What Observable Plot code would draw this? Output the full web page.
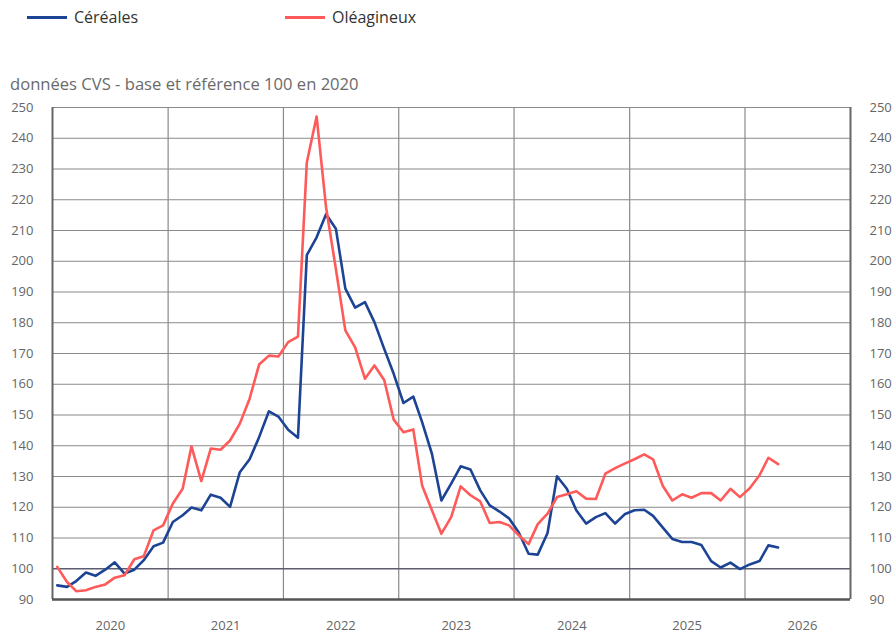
<!DOCTYPE html>
<html><head><meta charset="utf-8">
<script src="https://cdn.jsdelivr.net/npm/d3@7"></script>
<script src="https://cdn.jsdelivr.net/npm/@observablehq/plot@0.6"></script>
<style>
body{margin:0;background:#fff;font-family:"Open Sans",sans-serif;}
#wrap{position:relative;width:892px;height:635px;overflow:hidden;}
.leg{position:absolute;top:6px;font-size:16px;line-height:22px;color:#333;display:flex;align-items:center;white-space:nowrap;}
.leg .sw{display:inline-block;width:40px;height:3px;margin-right:7px;}
#sub{position:absolute;left:10px;top:73px;font-size:16.6px;line-height:22px;color:#6a6a6a;white-space:nowrap;}
#chart{position:absolute;left:0;top:95px;}
</style></head>
<body>
<div id="wrap">
  <div class="leg" style="left:27px"><span class="sw" style="background:#1d4494"></span>Céréales</div>
  <div class="leg" style="left:285px"><span class="sw" style="background:#ff5a5a"></span>Oléagineux</div>
  <div id="sub">données CVS - base et référence 100 en 2020</div>
  <div id="chart"></div>
</div>
<script>
// Monthly series, starting January 2020
const startYear = 2020;
const cereales = [
  94.6, 94.1, 96.0, 98.8, 97.7, 99.7, 102.1, 98.4, 99.7, 102.8, 107.3, 108.5,
  115.2, 117.4, 119.9, 119.0, 124.1, 123.1, 120.1, 131.4, 135.6, 142.8, 151.2, 149.5,
  145.2, 142.6, 202.0, 207.8, 215.3, 210.6, 191.1, 184.9, 186.7, 180.2, 171.5, 163.4,
  153.9, 156.0, 147.7, 137.4, 122.2, 127.7, 133.3, 132.3, 125.5, 120.6, 118.6, 116.4,
  111.8, 104.9, 104.6, 111.6, 130.1, 126.0, 119.0, 114.7, 116.8, 118.1, 114.7, 117.7,
  119.0, 119.2, 117.2, 113.4, 109.7, 108.7, 108.7, 107.7, 102.5, 100.4, 102.0, 99.9,
  101.4, 102.5, 107.6, 106.9
];
const oleagineux = [
  100.6, 95.7, 92.7, 93.0, 94.1, 94.9, 97.1, 97.9, 103.1, 104.1, 112.5, 114.1,
  121.2, 126.0, 139.8, 128.5, 139.1, 138.7, 141.7, 147.2, 155.3, 166.4, 169.3, 169.0,
  173.7, 175.5, 232.1, 247.1, 217.5, 197.5, 177.5, 172.0, 161.8, 166.1, 161.4, 148.5,
  144.4, 145.3, 127.1, 119.0, 111.4, 116.8, 126.8, 123.9, 121.9, 114.9, 115.2, 114.1,
  110.9, 108.0, 114.5, 117.9, 123.3, 124.2, 125.2, 122.8, 122.7, 130.9, 132.7, 134.2,
  135.6, 137.2, 135.6, 126.9, 122.2, 124.2, 123.1, 124.6, 124.6, 122.2, 126.0, 123.3,
  126.2, 130.4, 136.1, 134.0
];
const seriesNames = ["Céréales", "Oléagineux"];
const seriesColors = ["#1d4494", "#ff5a5a"];
const yearLabels = [2020, 2021, 2022, 2023, 2024, 2025, 2026];
const yTicks = [90, 100, 110, 120, 130, 140, 150, 160, 170, 180, 190, 200, 210, 220, 230, 240, 250];

const monthDate = i => new Date(Date.UTC(startYear, i, 16));
const rows = [];
cereales.forEach((v, i) => rows.push({date: monthDate(i), value: v, serie: seriesNames[0]}));
oleagineux.forEach((v, i) => rows.push({date: monthDate(i), value: v, serie: seriesNames[1]}));

const xStart = new Date(Date.UTC(2020, 0, 1));
const xEnd = new Date(Date.UTC(2026, 11, 1));
const yearStarts = yearLabels.slice(1).map(y => new Date(Date.UTC(y, 0, 1)));
const yearMids = yearLabels.map(y => new Date(Date.UTC(y, 6, 2)));

const chart = Plot.plot({
  width: 892,
  height: 540,
  marginTop: 12,
  marginBottom: 36,
  marginLeft: 52,
  marginRight: 42,
  style: {fontFamily: "'Open Sans', sans-serif", fontSize: "13px", color: "#666", background: "#fff"},
  x: {type: "utc", domain: [xStart, xEnd], label: null},
  y: {domain: [90, 250], label: null},
  color: {domain: seriesNames, range: seriesColors},
  marks: [
    Plot.gridY(yTicks.filter(v => v > 100), {stroke: "#8a8a8a", strokeOpacity: 1, strokeWidth: 1.2}),
    Plot.gridX(yearStarts, {stroke: "#8a8a8a", strokeOpacity: 1, strokeWidth: 1.2}),
    Plot.ruleY([100], {stroke: "#5c5c70", strokeWidth: 1.6}),
    Plot.line(rows.filter(d => d.serie === seriesNames[0]), {x: "date", y: "value", stroke: "serie", strokeWidth: 2.6}),
    Plot.line(rows.filter(d => d.serie === seriesNames[1]), {x: "date", y: "value", stroke: "serie", strokeWidth: 2.6}),
    Plot.ruleX([xStart], {stroke: "#666", strokeWidth: 2}),
    Plot.ruleX([xEnd], {stroke: "#666", strokeWidth: 2}),
    Plot.ruleY([90], {stroke: "#555", strokeWidth: 2.5}),
    Plot.axisY(yTicks, {anchor: "left", tickSize: 0, tickPadding: 19, fill: "#666", label: null}),
    Plot.axisY(yTicks, {anchor: "right", tickSize: 0, tickPadding: 19, fill: "#666", label: null}),
    Plot.axisX(yearMids, {anchor: "bottom", tickSize: 0, tickPadding: 21, tickFormat: d => String(d.getUTCFullYear()), fill: "#666", label: null})
  ]
});
document.getElementById("chart").appendChild(chart);
</script>
</body></html>
